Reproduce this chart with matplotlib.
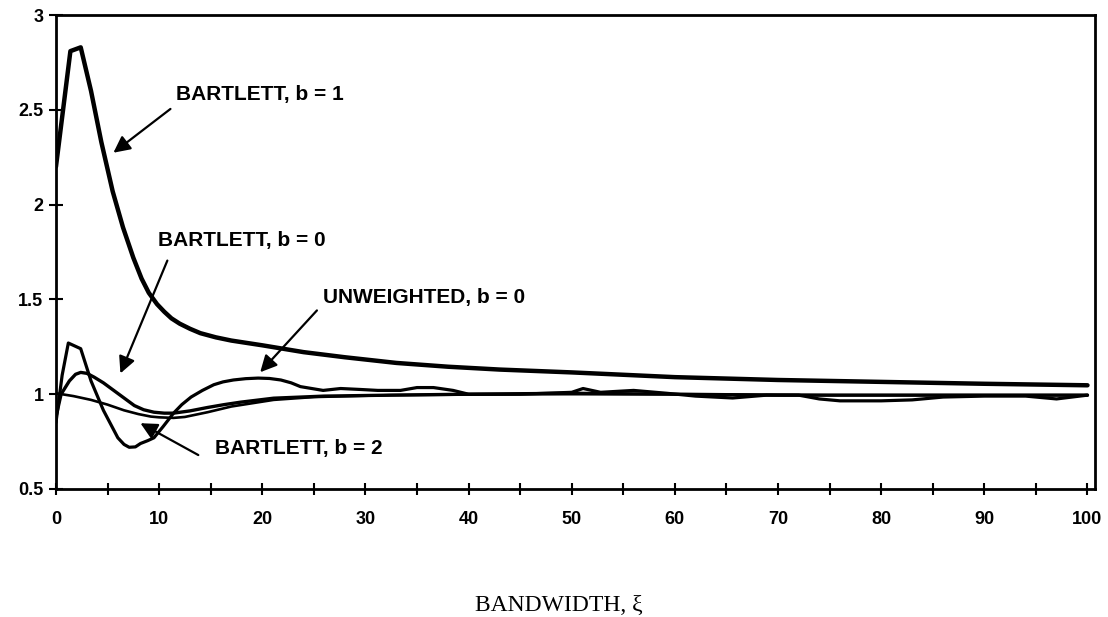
import matplotlib
matplotlib.use("Agg")
import matplotlib.pyplot as plt
from matplotlib.ticker import MultipleLocator, FuncFormatter

# ---- data ----
x_bart1 = [0, 1.4, 2.4, 3.4, 4.4, 5.5, 6.5, 7.5, 8.3, 9, 9.8, 10.5, 11.2, 12, 13, 14, 15.5, 17, 20, 24, 28, 33,
           38, 43, 50, 60, 70, 80, 90, 100]
y_bart1 = [2.2, 2.81, 2.83, 2.6, 2.33, 2.07, 1.88, 1.72, 1.61, 1.535, 1.475, 1.435, 1.4, 1.372, 1.345, 1.322,
           1.3, 1.283, 1.258, 1.222, 1.195, 1.165, 1.145, 1.13, 1.115, 1.09, 1.075, 1.065, 1.055, 1.047]

x_unw = [0, 0.6, 1.2, 2.4, 3.4, 4.6, 6.0, 6.6, 7.1, 7.7, 8.2, 8.9, 9.5, 10.4, 11.4, 12.2, 13.1, 14.2, 15.3,
         16.2, 17.2, 18.4, 19.6, 20.7, 21.8, 22.8, 23.7, 25.9, 27.6, 29.5, 31.2, 33.4, 35, 36.6, 38.5, 40, 45,
         50, 51.1, 52.8, 56, 59.2, 62, 65.6, 68.9, 72, 74, 76, 80, 83, 86, 90, 94, 97, 100]
y_unw = [0.85, 1.1, 1.27, 1.24, 1.07, 0.915, 0.77, 0.735, 0.72, 0.722, 0.74, 0.755, 0.77, 0.83, 0.9, 0.945,
         0.985, 1.02, 1.05, 1.065, 1.075, 1.082, 1.085, 1.083, 1.075, 1.06, 1.04, 1.02, 1.03, 1.025, 1.02,
         1.02, 1.035, 1.035, 1.02, 1.0, 1.0, 1.01, 1.03, 1.01, 1.02, 1.005, 0.99, 0.98, 0.995, 0.995, 0.975,
         0.965, 0.965, 0.97, 0.985, 0.99, 0.99, 0.975, 0.995]

x_bart0 = [0, 0.5, 1.3, 1.9, 2.4, 3.0, 3.7, 4.6, 5.6, 6.6, 7.6, 8.5, 9.5, 10.5, 11.4, 13, 14.7, 16.3, 17.9,
           21.1, 26, 32.4, 40, 50, 60, 70, 80, 90, 100]
y_bart0 = [0.88, 1.0, 1.07, 1.105, 1.115, 1.11, 1.09, 1.06, 1.02, 0.98, 0.94, 0.918, 0.905, 0.9, 0.9, 0.912,
           0.93, 0.945, 0.958, 0.979, 0.99, 0.995, 1.0, 1.005, 1.0, 0.995, 0.995, 0.995, 0.995]

x_bart2 = [0, 1.7, 3.4, 5, 6.6, 8, 9.2, 10, 11.4, 12.5, 14.7, 17, 21.1, 25, 32.4, 45, 60, 75, 90, 100]
y_bart2 = [1.005, 0.99, 0.97, 0.945, 0.915, 0.895, 0.882, 0.878, 0.875, 0.88, 0.905, 0.935, 0.97, 0.985, 0.995,
           1.0, 1.0, 0.995, 0.995, 0.995]

labels = ["BARTLETT, b = 1", "BARTLETT, b = 0", "UNWEIGHTED, b = 0", "BARTLETT, b = 2"]
x_ticks = [0, 10, 20, 30, 40, 50, 60, 70, 80, 90, 100]
y_ticks = [0.5, 1, 1.5, 2, 2.5, 3]
x_title = "BANDWIDTH, ξ"

# ---- figure ----
fig = plt.figure(figsize=(11.08, 6.17), dpi=100)
ax = fig.add_axes([0.0505, 0.2075, 0.9375, 0.768])

ax.plot(x_bart1, y_bart1, color="black", lw=3.2, solid_joinstyle="round", solid_capstyle="round")
ax.plot(x_unw, y_unw, color="black", lw=2.3, solid_joinstyle="round", solid_capstyle="round")
ax.plot(x_bart0, y_bart0, color="black", lw=2.4, solid_joinstyle="round", solid_capstyle="round")
ax.plot(x_bart2, y_bart2, color="black", lw=1.9, solid_joinstyle="round", solid_capstyle="round")

ax.set_xlim(0, 100.7)
ax.set_ylim(0.5, 3)
ax.xaxis.set_major_locator(MultipleLocator(5))
ax.set_yticks(y_ticks)
ax.xaxis.set_major_formatter(FuncFormatter(lambda v, p: f"{int(round(v))}" if int(round(v)) in x_ticks else ""))
ax.yaxis.set_major_formatter(FuncFormatter(lambda v, p: f"{v:g}"))

for s in ax.spines.values():
    s.set_linewidth(2.0)
ax.tick_params(axis="x", direction="inout", length=9, width=1.5, pad=11, labelsize=13)
ax.tick_params(axis="y", direction="inout", length=10, width=1.5, pad=4, labelsize=13)
for t in ax.get_xticklabels() + ax.get_yticklabels():
    t.set_fontweight("bold")
    t.set_family("Liberation Sans")

fs = 15
ann = dict(fontsize=fs, fontweight="bold", family="Liberation Sans", va="center", ha="left")
arrow = dict(arrowstyle="-|>,head_length=1.0,head_width=0.5", color="black", lw=1.6, shrinkA=0, shrinkB=0)

ax.annotate("", xy=(5.57, 2.274), xytext=(11.1, 2.505), arrowprops=arrow)
ax.text(11.6, 2.58, labels[0], **ann)
ax.annotate("", xy=(6.25, 1.11), xytext=(10.8, 1.705), arrowprops=arrow)
ax.text(9.93, 1.81, labels[1], **ann)
ax.annotate("", xy=(19.8, 1.116), xytext=(25.3, 1.442), arrowprops=arrow)
ax.text(25.85, 1.51, labels[2], **ann)
ax.annotate("", xy=(8.19, 0.847), xytext=(13.8, 0.679), arrowprops=arrow)
ax.text(15.45, 0.716, labels[3], **ann)

fig.text(559 / 1108, 1 - 605 / 617, x_title, family="Liberation Serif", fontsize=17,
         ha="center", va="center")

fig.savefig("out.png", dpi=100)
